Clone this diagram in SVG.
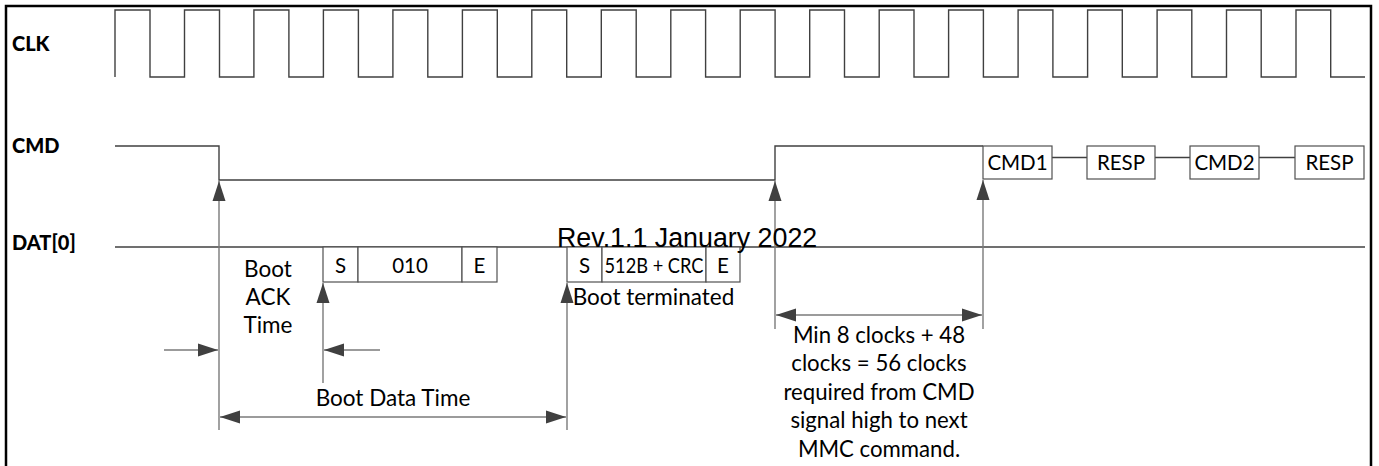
<svg xmlns="http://www.w3.org/2000/svg" width="1379" height="466" viewBox="0 0 1379 466">
<style>
.sig{fill:none;stroke:#404040;stroke-width:1.4}
.box{fill:#fff;stroke:#505050;stroke-width:1.2}
.con{fill:none;stroke:#7a7a7a;stroke-width:1.4}
.lbl{font-family:Lato,"Open Sans",sans-serif;font-weight:900;font-size:20px;fill:#000}
.t{font-family:Lato,"Open Sans",sans-serif;font-size:22.5px;fill:#000;text-anchor:middle}
.b{font-size:20.5px}
.m{font-size:22.2px}
.rev{font-family:"Liberation Sans",Arial,sans-serif;font-size:26.8px;fill:#000}
</style>
<defs>
<marker id="ah" markerUnits="userSpaceOnUse" markerWidth="20" markerHeight="14" refX="20" refY="7" orient="auto-start-reverse">
<path d="M0,0.5 L20,7 L0,13.5 z" fill="#404040"/>
</marker>
</defs>
<rect width="1379" height="466" fill="#fff"/>
<path d="M6,470 V6 H1371 V470" fill="none" stroke="#000" stroke-width="2.5"/>
<g id="labels">
<text class="lbl" x="12" y="51">CLK</text>
<text class="lbl" x="12" y="153">CMD</text>
<text class="lbl" x="12" y="250">DAT[0]</text>
</g>
<g id="clk">
<path class="sig" d="M115,77 V10 H150 V77 H184.5 V10 H219.5 V77 H253.9 V10 H288.9 V77 H323.4 V10 H358.4 V77 H392.9 V10 H427.8 V77 H462.4 V10 H497.3 V77 H531.8 V10 H566.7 V77 H601.3 V10 H636.2 V77 H670.8 V10 H705.6 V77 H740.2 V10 H775.1 V77 H809.7 V10 H844.5 V77 H879.2 V10 H914 V77 H948.6 V10 H983.4 V77 H1018.1 V10 H1052.9 V77 H1087.6 V10 H1122.3 V77 H1157.1 V10 H1191.8 V77 H1226.5 V10 H1261.2 V77 H1296 V10 H1330.7 V77 H1365"/>
</g>
<g id="cmd">
<path class="sig" d="M115,146 H219 V180 H775 V146 H983"/>
<path class="sig" d="M1052,157.5 H1087 M1155,157.5 H1190 M1259,157.5 H1295"/>
</g>
<g id="cmd1"><rect class="box" x="983" y="146" width="69" height="33"/><text class="t b" x="1017.5" y="170">CMD1</text></g>
<g id="resp1"><rect class="box" x="1087" y="146" width="68" height="33"/><text class="t b" x="1121" y="170">RESP</text></g>
<g id="cmd2"><rect class="box" x="1190" y="146" width="69" height="33"/><text class="t b" x="1224.5" y="170">CMD2</text></g>
<g id="resp2"><rect class="box" x="1295" y="146" width="69" height="33"/><text class="t b" x="1329.5" y="170">RESP</text></g>
<g id="dat">
<path class="sig" d="M115,247 H1365"/>
</g>
<g id="ack-s"><rect class="box" x="323" y="247" width="35" height="35"/><text class="t b" x="340.5" y="273">S</text></g>
<g id="ack-010"><rect class="box" x="358" y="247" width="104" height="35"/><text class="t b" x="410" y="273">010</text></g>
<g id="ack-e"><rect class="box" x="462" y="247" width="35" height="35"/><text class="t b" x="479.5" y="273">E</text></g>
<g id="data-s"><rect class="box" x="567" y="247" width="35" height="35"/><text class="t b" x="584.5" y="273">S</text></g>
<g id="data-512"><rect class="box" x="602" y="247" width="104" height="35"/><text class="t b" x="654" y="273" textLength="99" lengthAdjust="spacingAndGlyphs">512B + CRC</text></g>
<g id="data-e"><rect class="box" x="706" y="247" width="34" height="35"/><text class="t b" x="723" y="273">E</text></g>
<g id="connectors">
<path class="con" d="M219,430 V181" marker-end="url(#ah)"/>
<path class="con" d="M164,350 H218" marker-end="url(#ah)"/>
<path class="con" d="M323,383 V283" marker-end="url(#ah)"/>
<path class="con" d="M380,350 H324" marker-end="url(#ah)"/>
<path class="con" d="M567,430 V283" marker-end="url(#ah)"/>
<path class="con" d="M220,417 H566" marker-start="url(#ah)" marker-end="url(#ah)"/>
<path class="con" d="M775,329 V181" marker-end="url(#ah)"/>
<path class="con" d="M983,329 V180" marker-end="url(#ah)"/>
<path class="con" d="M776,315 H982" marker-start="url(#ah)" marker-end="url(#ah)"/>
</g>
<g id="texts">
<text class="t" x="268" y="277">Boot</text>
<text class="t" x="268" y="305">ACK</text>
<text class="t" x="268" y="333">Time</text>
<text class="t" x="393" y="406">Boot Data Time</text>
<text class="t" x="653.5" y="305">Boot terminated</text>
<text class="t m" x="879" y="342.5">Min 8 clocks + 48</text>
<text class="t m" x="879" y="371">clocks = 56 clocks</text>
<text class="t m" x="879" y="399.5">required from CMD</text>
<text class="t m" x="879" y="428">signal high to next</text>
<text class="t m" x="879" y="456.5">MMC command.</text>
<text class="rev" x="557" y="246.5">Rev.1.1 January 2022</text>
</g>
</svg>
